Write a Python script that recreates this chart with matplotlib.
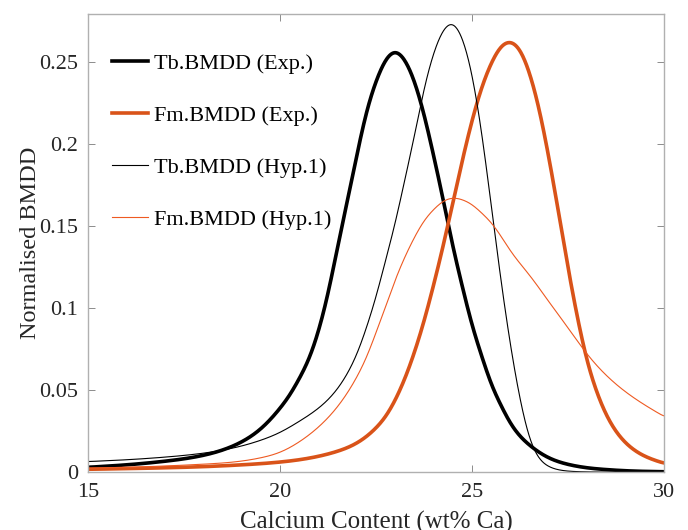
import numpy as np
import matplotlib
matplotlib.use("Agg")
import matplotlib.pyplot as plt

plt.rcParams["font.family"] = ["Liberation Serif", "DejaVu Serif"]

# values (x in wt% Ca)
tb_exp_x = [15, 16, 17, 18, 18.5, 19, 19.5, 20, 20.25, 20.5, 20.75, 21, 21.25, 21.5, 21.75,
            22, 22.25, 22.5, 22.75, 23, 23.25, 23.5, 23.75, 24, 24.25, 24.5, 24.75, 25,
            25.25, 25.5, 25.75, 26, 26.5, 27, 27.5, 28, 28.5, 29, 30]
tb_exp_y = [0.003, 0.0045, 0.0067, 0.0103, 0.0135, 0.0185, 0.0265, 0.039, 0.047, 0.057,
            0.069, 0.086, 0.109, 0.137, 0.165, 0.193, 0.219, 0.238, 0.251, 0.256, 0.251,
            0.238, 0.218, 0.193, 0.166, 0.138, 0.113, 0.090, 0.071, 0.054, 0.041, 0.030,
            0.0165, 0.0088, 0.0048, 0.0027, 0.0016, 0.0009, 0.0003]

fm_exp_x = [15, 16, 17, 18, 19, 20, 20.5, 21, 21.5, 22, 22.5, 22.75, 23, 23.25, 23.5, 23.75,
            24, 24.25, 24.5, 24.75, 25, 25.25, 25.5, 25.75, 26, 26.25, 26.5, 26.75, 27,
            27.25, 27.5, 27.75, 28, 28.25, 28.5, 29, 29.5, 30]
fm_exp_y = [0.0018, 0.0022, 0.0027, 0.0034, 0.0045, 0.0062, 0.0076, 0.0097, 0.0128, 0.0178,
            0.027, 0.034, 0.044, 0.057, 0.073, 0.092, 0.114, 0.138, 0.164, 0.190, 0.214,
            0.234, 0.249, 0.259, 0.262, 0.257, 0.243, 0.221, 0.192, 0.159, 0.125, 0.094,
            0.068, 0.049, 0.035, 0.018, 0.0098, 0.0055]

tb_hyp_x = [15, 16, 17, 18, 19, 19.5, 20, 20.5, 21, 21.5, 21.75, 22, 22.25, 22.5, 22.75, 23,
            23.25, 23.5, 23.75, 24, 24.25, 24.5, 24.75, 25, 25.25, 25.5, 25.75, 26, 26.25,
            26.5, 26.75, 27, 27.25, 27.5, 28, 29, 30]
tb_hyp_y = [0.0065, 0.0076, 0.0092, 0.0116, 0.016, 0.0195, 0.0243, 0.031, 0.039, 0.051,
            0.060, 0.072, 0.088, 0.107, 0.129, 0.152, 0.178, 0.205, 0.233, 0.255, 0.269,
            0.273, 0.264, 0.242, 0.207, 0.163, 0.118, 0.078, 0.045, 0.021, 0.0085, 0.0035,
            0.0015, 0.0007, 0.0002, 0.00005, 0.00001]

fm_hyp_x = [15, 16, 17, 18, 19, 19.5, 20, 20.5, 21, 21.5, 22, 22.25, 22.5, 22.75, 23, 23.25,
            23.5, 23.75, 24, 24.25, 24.5, 24.75, 25, 25.25, 25.5, 25.75, 26, 26.5, 27, 27.5,
            28, 28.5, 29, 29.5, 30]
fm_hyp_y = [0.0025, 0.003, 0.0038, 0.0049, 0.0068, 0.0088, 0.0122, 0.0185, 0.0275, 0.040,
            0.058, 0.070, 0.085, 0.101, 0.117, 0.131, 0.143, 0.153, 0.160, 0.165, 0.167,
            0.166, 0.163, 0.158, 0.152, 0.144, 0.135, 0.120, 0.104, 0.088, 0.072, 0.059,
            0.049, 0.041, 0.034]

labels = ["Tb.BMDD (Exp.)", "Fm.BMDD (Exp.)", "Tb.BMDD (Hyp.1)", "Fm.BMDD (Hyp.1)"]


def smooth(x, y, xs):
	"""Natural cubic spline through the read points, lightly blurred to hide corners"""
	x = np.asarray(x, float)
	y = np.asarray(y, float)
	n = len(x)
	h = np.diff(x)
	A = np.zeros((n, n))
	b = np.zeros(n)
	A[0, 0] = A[-1, -1] = 1
	for k in range(1, n - 1):
		A[k, k - 1] = h[k - 1]
		A[k, k] = 2 * (h[k - 1] + h[k])
		A[k, k + 1] = h[k]
		b[k] = 6 * ((y[k + 1] - y[k]) / h[k] - (y[k] - y[k - 1]) / h[k - 1])
	M = np.linalg.solve(A, b)
	i = np.clip(np.searchsorted(x, xs) - 1, 0, n - 2)
	t0 = x[i + 1] - xs
	t1 = xs - x[i]
	hi = h[i]
	v = (M[i] * t0**3 + M[i + 1] * t1**3) / (6 * hi) \
		+ (y[i] / hi - M[i] * hi / 6) * t0 + (y[i + 1] / hi - M[i + 1] * hi / 6) * t1
	# small gaussian blur (sigma ~0.07 wt%)
	step = xs[1] - xs[0]
	r = int(round(0.21 / step))
	k = np.exp(-0.5 * (np.arange(-r, r + 1) * step / 0.07) ** 2)
	k /= k.sum()
	v = np.convolve(np.pad(v, r, mode="edge"), k, mode="valid")
	return np.clip(v, 0, None)


fig = plt.figure(figsize=(6.88, 5.30), dpi=100)
ax = fig.add_axes([0.128, 0.109, 0.837, 0.865])

orange = "#D95319"
xs = np.linspace(15, 30, 1200)
ax.plot(xs, smooth(tb_exp_x, tb_exp_y, xs), color="black", lw=2.6, label=labels[0])
ax.plot(xs, smooth(fm_exp_x, fm_exp_y, xs), color=orange, lw=2.6, label=labels[1])
ax.plot(xs, smooth(tb_hyp_x, tb_hyp_y, xs), color="black", lw=0.8, label=labels[2])
ax.plot(xs, smooth(fm_hyp_x, fm_hyp_y, xs), color="#EE5A22", lw=0.8, label=labels[3])

ax.set_xlim(15, 30)
ax.set_ylim(0, 0.2793)
ax.set_xticks([15, 20, 25, 30])
ax.set_yticks([0, 0.05, 0.1, 0.15, 0.2, 0.25])
ax.set_yticklabels(["0", "0.05", "0.1", "0.15", "0.2", "0.25"])
ax.tick_params(direction="in", top=True, right=True, length=5, width=0.6,
			   color="#7a7a7a", labelsize=16, labelcolor="#262626")
ax.tick_params(axis="y", pad=7)
ax.tick_params(axis="x", pad=8)
for s in ax.spines.values():
	s.set_color("#b0b0b0")
	s.set_linewidth(1.0)

ax.set_xlabel("Calcium Content (wt% Ca)", fontsize=18, color="#262626", labelpad=6)
ax.set_ylabel("Normalised BMDD", fontsize=17.5, color="#262626", labelpad=-1)

ax.legend(loc="upper left", bbox_to_anchor=(0.042, 0.913), frameon=False, fontsize=16,
		  handlelength=1.6, handletextpad=0.3, labelspacing=1.41, borderpad=0,
		  borderaxespad=0)

fig.savefig("out.png", dpi=100)
